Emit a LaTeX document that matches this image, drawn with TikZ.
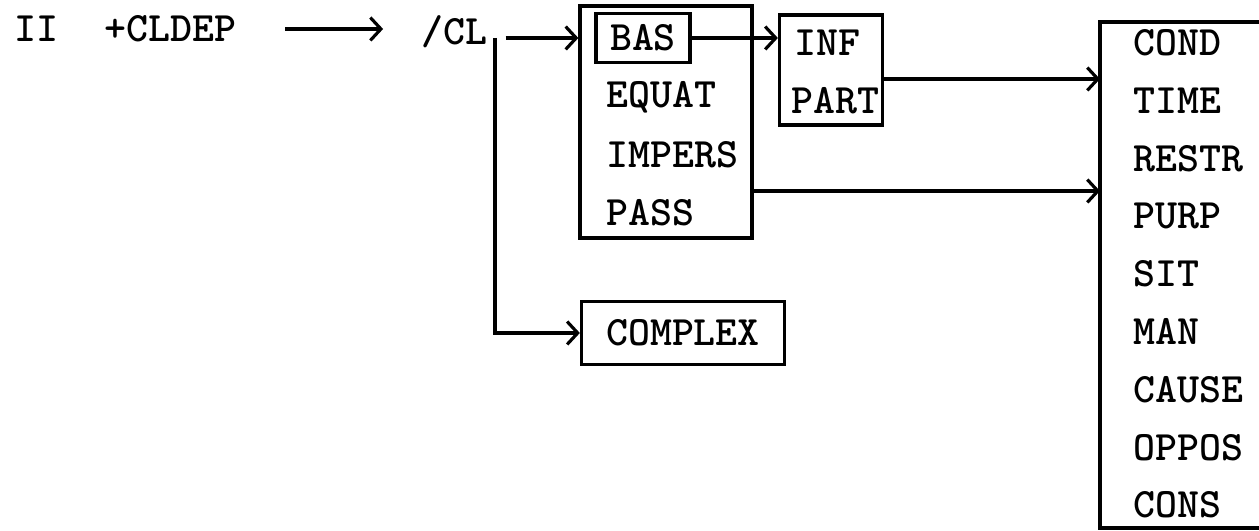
\documentclass[tikz,border=0pt]{standalone}
\usetikzlibrary{arrows.meta}
\begin{document}
\begin{tikzpicture}[x=0.01cm,y=-0.01cm,line width=0.9pt,
    font=\ttfamily\bfseries\fontsize{11.9}{14}\selectfont,
    lbl/.style={inner sep=0pt,anchor=west},
    box/.style={draw,inner sep=0pt},
    arr/.style={-{Straight Barb[length=3pt,width=6.5pt]}}]
    \useasboundingbox (0,0) rectangle (1259,531);

    % top line
    \node[lbl] (ii) at (13,29) {II};
    \node[lbl] (cldep) at (103,29) {+CLDEP};
    \node[lbl] (cl) at (420,32) {/CL};
    \draw[arr] ([xshift=13.5pt]cldep.east) -- ([xshift=-10.5pt]cl.west |- cldep.east);

    % clause types
    \node[box,minimum width=1.72cm,minimum height=2.32cm] (grp) at (666,122) {};
    \node[box,minimum width=0.94cm,minimum height=0.49cm] (bas) at (643,38) {BAS};
    \node[lbl] (equat) at (605,97) {EQUAT};
    \node[lbl] (impers) at (605,155) {IMPERS};
    \node[lbl] (pass) at (605,213) {PASS};
    \node[box,minimum width=2.03cm,minimum height=0.63cm] (complex) at (683,333) {COMPLEX};

    \coordinate (split) at (495,38);
    \draw[arr,shorten <=3pt] (split) -- (grp.west |- bas.west);
    \draw[arr] (split) |- (complex.west);

    % non-finite
    \node[box,minimum width=1.03cm,minimum height=1.10cm] (ip) at (831,70) {};
    \node[lbl] (inf) at (793,43) {INF};
    \node[lbl] (part) at (790,101) {PART};
    \draw[arr] (bas.east) -- (ip.west |- bas.east);

    % relations
    \draw (1259,22) -| (1100,528) -- (1259,528);
    \coordinate (relhi) at (1100,79);
    \coordinate (rello) at (1100,191);
    \foreach \w [count=\i] in {COND,TIME,RESTR,PURP,SIT,MAN,CAUSE,OPPOS,CONS}
        \node[lbl] (rel\i) at (1132,{43+57.75*(\i-1)}) {\w};
    \draw[arr] (ip.east |- relhi) -- (relhi);
    \draw[arr] (grp.east |- rello) -- (rello);
\end{tikzpicture}
\end{document}
